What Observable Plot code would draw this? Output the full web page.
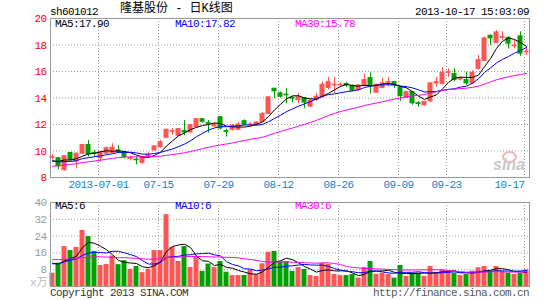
<!DOCTYPE html>
<html><head><meta charset="utf-8">
<script src="https://cdn.jsdelivr.net/npm/d3@7"></script>
<script src="https://cdn.jsdelivr.net/npm/@observablehq/plot@0.6"></script>
<style>
html,body{margin:0;padding:0;background:#fff;}
#wrap{position:relative;width:545px;height:300px;overflow:hidden;background:#fff;}
.m{position:absolute;font-family:"Liberation Mono","DejaVu Sans Mono","Noto Sans CJK SC",monospace;font-size:11px;letter-spacing:-0.6px;line-height:11px;white-space:pre;color:#000;}
.cn{position:absolute;font-family:"Liberation Mono","Noto Sans CJK SC",monospace;font-size:12px;line-height:12px;white-space:pre;color:#000;}
#price,#vol{position:absolute;left:0;}
</style></head>
<body>
<div id="wrap">
  <div class="m" style="left:50px;top:7px">sh601012</div>
  <div class="cn" style="left:120px;top:3px">隆基股份 - 日K线图</div>
  <div class="m" style="right:16px;top:7px">2013-10-17 15:03:09</div>
  <div id="price" style="top:0"></div>
  <div id="vol" style="top:195px"></div>
  <div class="m" style="left:55px;top:18.5px;color:#000" id="pl0"></div>
  <div class="m" style="left:175px;top:18.5px;color:#0000ff" id="pl1"></div>
  <div class="m" style="left:295px;top:18.5px;color:#ff00ff" id="pl2"></div>
  <div class="m" style="left:55px;top:201px;color:#000" id="vl0"></div>
  <div class="m" style="left:175px;top:201px;color:#0000ff" id="vl1"></div>
  <div class="m" style="left:295px;top:201px;color:#ff00ff" id="vl2"></div>
  <div class="m" style="left:30px;top:278px;color:#bbb;letter-spacing:0">x万</div>
  <div style="position:absolute;left:502px;top:151px;width:11px;height:8px;border:2px solid #f3b3b3;border-radius:50%"></div>
  <div style="position:absolute;left:493px;top:156px;font:italic bold 16px 'Liberation Sans',sans-serif;color:#c8c8c8">sina</div>
  <div class="m" style="left:50px;top:288px;color:#333">Copyright 2013 SINA.COM</div>
  <div class="m" style="right:16px;top:288px;color:#555">http://finance.sina.com.cn</div>
</div>
<script>
const dates = ["2013-06-19","2013-06-20","2013-06-21","2013-06-24","2013-06-25","2013-06-26","2013-06-27","2013-06-28",
"2013-07-01","2013-07-02","2013-07-03","2013-07-04","2013-07-05","2013-07-08","2013-07-09","2013-07-10","2013-07-11","2013-07-12",
"2013-07-15","2013-07-16","2013-07-17","2013-07-18","2013-07-19","2013-07-22","2013-07-23","2013-07-24","2013-07-25","2013-07-26",
"2013-07-29","2013-07-30","2013-07-31","2013-08-01","2013-08-02","2013-08-05","2013-08-06","2013-08-07","2013-08-08","2013-08-09",
"2013-08-12","2013-08-13","2013-08-14","2013-08-15","2013-08-16","2013-08-19","2013-08-20","2013-08-21","2013-08-22","2013-08-23",
"2013-08-26","2013-08-27","2013-08-28","2013-08-29","2013-08-30","2013-09-02","2013-09-03","2013-09-04","2013-09-05","2013-09-06",
"2013-09-09","2013-09-10","2013-09-11","2013-09-12","2013-09-13","2013-09-16","2013-09-17","2013-09-18",
"2013-09-23","2013-09-24","2013-09-25","2013-09-26","2013-09-27","2013-09-30",
"2013-10-08","2013-10-09","2013-10-10","2013-10-11","2013-10-14","2013-10-15","2013-10-16","2013-10-17"];

const open = [9.5,9.45,8.55,9.85,9.2,9.8,10.45,9.85,9.45,9.8,
 9.85,10.05,9.9,9.4,9.35,9.1,9.55,10.05,10.3,11.0,
 11.45,11.15,11.5,11.4,11.8,12.4,12.1,11.85,12.55,11.5,
 11.6,11.6,12.25,11.95,11.95,12.2,12.8,14.7,14.35,14.25,
 14.0,13.85,14.0,13.35,13.85,14.05,14.75,14.95,14.95,15.05,
 14.9,14.6,14.9,15.5,14.4,14.75,15.15,15.2,14.8,14.0,
 14.45,13.6,13.45,13.75,15.1,15.05,15.9,15.8,15.4,15.35,
 15.1,16.2,16.8,18.7,18.15,18.55,18.55,17.9,18.65,17.45];
const close = [9.55,8.85,9.6,9.3,9.8,10.45,9.75,9.8,9.9,10.2,
 10.25,9.9,9.55,9.45,9.3,9.55,9.7,10.35,10.65,11.6,
 11.5,11.65,11.4,11.95,12.4,12.2,12.05,12.0,11.7,11.45,
 11.9,12.0,12.0,12.0,12.15,12.8,14.05,14.5,14.1,14.2,
 13.95,14.1,13.65,13.8,14.1,15.0,15.2,15.0,15.0,14.95,
 14.55,14.95,15.35,14.85,15.0,15.1,15.2,14.95,14.15,14.45,
 13.6,13.55,13.7,15.1,15.2,15.9,15.95,15.35,15.45,15.1,
 15.9,16.85,18.5,18.5,18.95,18.6,18.1,17.95,17.35,17.5];
const high = [9.75,9.5,9.65,9.9,9.85,10.5,10.8,10.05,9.95,10.3,
 10.55,10.4,9.95,9.6,9.55,9.6,9.9,10.4,10.8,11.65,
 11.7,11.7,12.3,12.0,12.45,12.45,12.3,12.1,12.6,11.65,
 12.0,12.15,12.35,12.15,12.2,12.9,14.1,14.72,14.45,14.7,
 14.15,14.35,14.05,13.85,14.35,15.2,15.55,15.55,15.15,15.15,
 15.0,15.0,15.8,15.9,15.05,15.5,15.55,15.25,14.85,14.5,
 14.5,13.75,13.75,15.15,15.55,16.3,16.2,16.2,15.6,15.95,
 16.05,17.2,18.6,18.75,19.1,19.0,18.6,18.35,19.0,17.85];
const low = [9.3,8.6,8.48,9.25,8.65,9.75,9.55,9.55,9.15,9.75,
 9.8,9.8,9.4,9.25,8.95,9.0,9.45,10.0,10.2,10.95,
 11.2,11.1,11.15,11.35,11.75,12.1,11.35,11.8,11.6,11.05,
 11.5,11.55,11.9,11.85,11.9,12.15,12.75,13.95,14.0,13.55,
 13.65,13.55,13.2,13.3,13.75,14.0,14.6,14.35,14.85,14.8,
 14.45,14.5,14.85,14.3,14.35,14.7,14.85,14.7,13.75,13.95,
 13.45,13.3,13.4,13.65,14.8,15.0,15.55,15.2,15.3,14.95,
 15.05,16.1,16.75,17.95,18.1,18.35,17.7,17.7,17.15,17.2];
const volume = [6.3,11.1,19,17.1,18.6,26.7,23.8,16.7,10,10.5,
 14.5,10.4,12.3,8.2,9.5,6.6,8.2,17.1,17.1,34.2,
 18.6,11.9,19,9.1,14,7.2,10.7,9.0,11.9,6.8,
 5.2,5.2,5.2,7.9,5.7,10.8,16.3,16.7,11.8,11.8,
 7.2,9.0,8.1,5.2,4.8,11.0,10.5,5.7,5.2,5.2,
 5.7,4.0,9.1,11.9,5.8,6.3,5.7,4.0,10.0,4.8,
 6.3,6.3,4.8,9.5,6.3,7.9,7.6,6.3,5.2,5.7,
 7.3,8.9,9.5,7.3,9.5,7.3,6.3,5.7,6.3,7.9];
// estimated closes / volumes of the 29 sessions before the window (for the moving averages)
const priorClose = [7.85,7.9,7.95,8.0,7.95,8.05,8.1,8.0,8.05,8.1,
 8.3,8.6,8.9,9.2,9.5,9.6,9.7,9.8,9.8,9.7,
 9.6,9.4,9.2,9.1,8.95,9.0,9.1,9.3,9.3];
const priorVolume = [12,14,11,13,15,16,12,10,14,18,
 15,13,12,16,14,13,15,12,14,17,
 11,9,10,12,10.5,13,12,11.5,12.7];

const priceTicks = [8,10,12,14,16,18,20];
const priceGrid = [10,12,14,16,18];
const volTicks = [8,16,24,32,40];
const volGrid = [8,16,24,32];
const dateTicks = ["2013-07-01","2013-07-15","2013-07-29","2013-08-12","2013-08-26","2013-09-09","2013-09-23","2013-10-17"];
const dateTickLabels = ["2013-07-01","07-15","07-29","08-12","08-26","09-09","09-23","10-17"];
const maPeriods = [5,10,30];
const maColors = ["#000000","#0000ff","#ff00ff"];
const priceMaLabels = ["MA5:17.90","MA10:17.82","MA30:15.78"];
const volMaLabels = ["MA5:6","MA10:6","MA30:6"];

const RED = "#ff5555", GREEN = "#00a000";

function movingAvg(prior, vals, n) {
  const all = prior.concat(vals), p = prior.length;
  return vals.map((_, i) => d3.mean(all.slice(p + i - n + 1, p + i + 1)));
}
const rows = dates.map((d, i) => ({i, d, o: open[i], c: close[i], h: high[i], l: low[i], v: volume[i],
  col: close[i] >= open[i] ? RED : GREEN}));
const priceMA = maPeriods.map(n => movingAvg(priorClose, close, n));
const volMA = maPeriods.map(n => movingAvg(priorVolume, volume, n));
const maRows = (arr) => arr.flatMap((s, k) => s.map((y, i) => ({i, y, k})));
const tickIdx = dateTicks.map(t => dates.indexOf(t));

const W = 545, XD = [0, 479 / 6];
const font = {fontFamily: "'Liberation Mono','DejaVu Sans Mono',monospace", fontSize: "11px", letterSpacing: "-0.6px", background: "transparent", overflow: "visible"};
const ctr = 1 / 3;

const price = Plot.plot({
  width: W, height: 195, marginLeft: 50, marginRight: 16, marginTop: 18, marginBottom: 18,
  style: font,
  x: {domain: XD, axis: null},
  y: {domain: [8, 20], axis: null},
  color: {type: "identity"},
  marks: [
    Plot.gridY(priceGrid, {stroke: "#999", strokeOpacity: 1, strokeDasharray: "1,2"}),
    Plot.ruleX(tickIdx, {stroke: "#999", strokeOpacity: 1, strokeDasharray: "1,2"}),
    Plot.frame({stroke: "#999"}),
    Plot.axisY(priceTicks, {tickSize: 0, tickPadding: 4, color: "#ff0000", label: null}),
    Plot.ruleX(rows, {x: d => d.i + ctr, y1: "l", y2: "h", stroke: "col"}),
    Plot.rect(rows, {x1: d => d.i, x2: d => d.i + 2 / 3, y1: "o", y2: "c", fill: "col", stroke: "col"}),
    Plot.line(maRows(priceMA), {x: d => d.i + ctr, y: "y", z: "k", stroke: d => maColors[d.k], strokeWidth: 1}),
    Plot.text(dateTicks.slice(0, -1), {x: d => dates.indexOf(d), text: (d, i) => dateTickLabels[i], frameAnchor: "bottom", dy: 10, fill: "#1a80cf"}),
    Plot.text(dateTicks.slice(-1), {x: d => dates.indexOf(d), text: () => dateTickLabels[dateTickLabels.length - 1], frameAnchor: "bottom", dy: 10, textAnchor: "end", fill: "#1a80cf"})
  ]
});
document.getElementById("price").appendChild(price);

const vol = Plot.plot({
  width: W, height: 93, marginLeft: 50, marginRight: 16, marginTop: 7, marginBottom: 2,
  style: font,
  x: {domain: XD, axis: null},
  y: {domain: [0, 40], axis: null},
  color: {type: "identity"},
  marks: [
    Plot.gridY(volGrid, {stroke: "#999", strokeOpacity: 1, strokeDasharray: "1,2"}),
    Plot.ruleX(tickIdx, {stroke: "#999", strokeOpacity: 1, strokeDasharray: "1,2"}),
    Plot.rect(rows, {x1: d => d.i - 1 / 12, x2: d => d.i + 0.75, y1: 0, y2: "v", fill: "col"}),
    Plot.line(maRows(volMA), {x: d => d.i + ctr, y: "y", z: "k", stroke: d => maColors[d.k], strokeWidth: 1}),
    Plot.frame({stroke: "#999"}),
    Plot.axisY(volTicks, {tickSize: 0, tickPadding: 4, color: "#999", label: null})
  ]
});
document.getElementById("vol").appendChild(vol);

priceMaLabels.forEach((t, k) => document.getElementById("pl" + k).textContent = t);
volMaLabels.forEach((t, k) => document.getElementById("vl" + k).textContent = t);
</script>
</body></html>
